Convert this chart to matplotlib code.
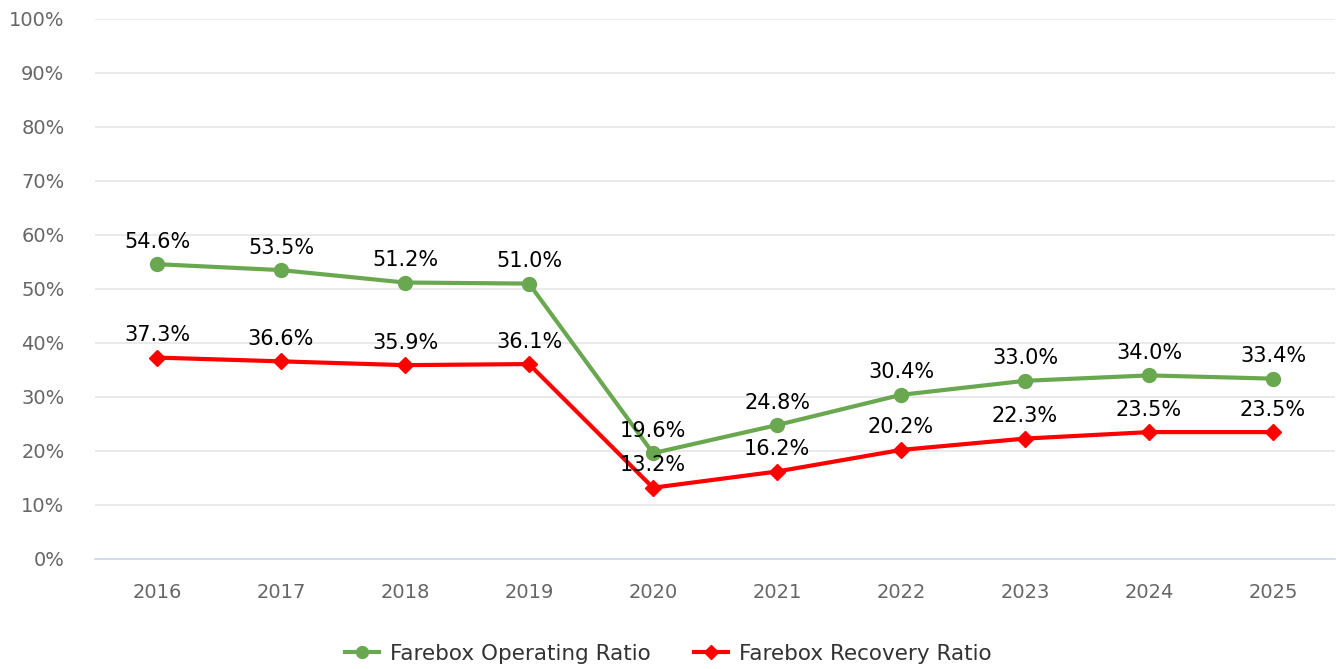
import matplotlib
matplotlib.use("Agg")
import matplotlib.pyplot as plt
from matplotlib.ticker import FuncFormatter

years = ["2016", "2017", "2018", "2019", "2020", "2021", "2022", "2023", "2024", "2025"]
operating = [54.6, 53.5, 51.2, 51.0, 19.6, 24.8, 30.4, 33.0, 34.0, 33.4]
recovery = [37.3, 36.6, 35.9, 36.1, 13.2, 16.2, 20.2, 22.3, 23.5, 23.5]
yticks = [0, 10, 20, 30, 40, 50, 60, 70, 80, 90, 100]

plt.rcParams['font.family'] = ['DejaVu Sans']

fig = plt.figure(figsize=(13.36, 6.69), dpi=100)
ax = fig.add_axes([95/1336, 1 - 559/669, 1240/1336, 540/669])

x = list(range(len(years)))
green = "#6aa84f"
red = "#ff0000"
ax.plot(x, operating, color=green, lw=3, marker="o", ms=10, label="Farebox Operating Ratio", zorder=3)
ax.plot(x, recovery, color=red, lw=3, marker="D", ms=8, label="Farebox Recovery Ratio", zorder=3)

for xi, v in zip(x, operating):
    ax.annotate(f"{v:.1f}%", (xi, v), xytext=(0, 9), textcoords="offset points",
                ha="center", va="bottom", fontsize=15, color="black", zorder=4)
for xi, v in zip(x, recovery):
    ax.annotate(f"{v:.1f}%", (xi, v), xytext=(0, 9), textcoords="offset points",
                ha="center", va="bottom", fontsize=15, color="black", zorder=4)

ax.set_xlim(-0.5, len(years) - 0.5)
ax.set_ylim(0, 100)
ax.set_yticks(yticks)
ax.yaxis.set_major_formatter(FuncFormatter(lambda v, p: f"{int(v)}%"))
ax.set_xticks(x)
ax.set_xticklabels(years)
ax.grid(axis="y", color="#e6e6e6", lw=1.2)
ax.set_axisbelow(True)
for s in ["top", "right", "left"]:
    ax.spines[s].set_visible(False)
ax.spines["bottom"].set_color("#ccd6eb")
ax.spines["bottom"].set_linewidth(1.2)
ax.tick_params(axis="both", length=0, labelsize=14, colors="#666666")
ax.tick_params(axis="x", pad=17)
ax.tick_params(axis="y", pad=22)

leg = fig.legend(loc="center", bbox_to_anchor=(0.5, 1 - 654/669), ncol=2, frameon=False,
                 fontsize=15.5, handlelength=1.6, markerscale=0.85, columnspacing=2.0,
                 handletextpad=0.5, labelcolor="#333333")

fig.savefig("out.png", dpi=100)
